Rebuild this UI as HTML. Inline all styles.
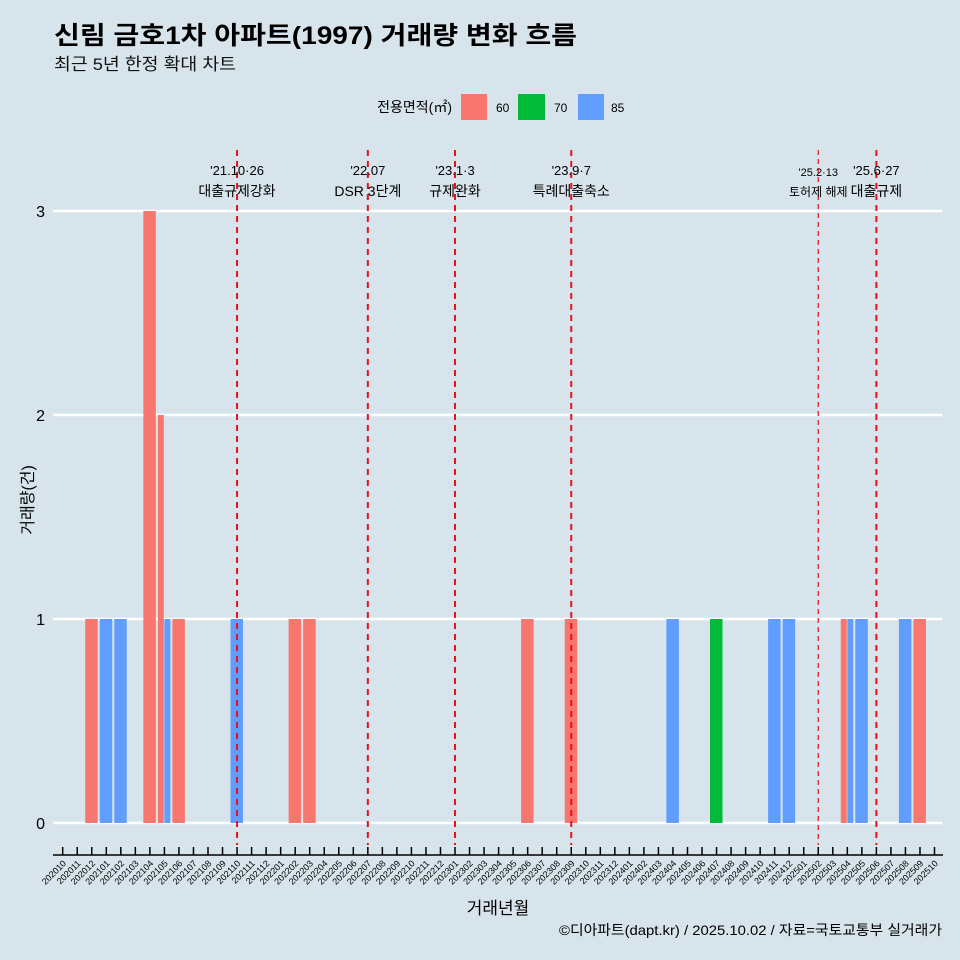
<!DOCTYPE html>
<html><head><meta charset="utf-8"><style>
body{margin:0;background:#d7e4ec;}
svg{display:block;font-family:"Liberation Sans","Noto Sans CJK KR",sans-serif;}
</style></head><body>
<svg id="c" width="960" height="960" viewBox="0 0 960 960">
<rect width="960" height="960" fill="#d7e4ec"/>
<text x="54" y="44" font-size="25" font-weight="bold" fill="#000" textLength="523" lengthAdjust="spacingAndGlyphs">신림 금호1차 아파트(1997) 거래량 변화 흐름</text>
<text x="54" y="70" font-size="17" fill="#111" textLength="182" lengthAdjust="spacingAndGlyphs">최근 5년 한정 확대 차트</text>
<g>
<text x="452" y="112" font-size="14" text-anchor="end">전용면적(㎡)</text>
<rect x="461" y="94" width="26" height="26" fill="#f8766d"/>
<text x="496" y="112" font-size="12">60</text>
<rect x="518" y="94" width="27" height="26" fill="#00ba38"/>
<text x="554" y="112" font-size="12">70</text>
<rect x="578" y="94" width="26" height="26" fill="#619cff"/>
<text x="611" y="112" font-size="12">85</text>
</g>
<g id="grid"></g><g id="bars"></g><g id="events"></g><g id="axes"></g>
<text x="498" y="914" font-size="17" text-anchor="middle">거래년월</text>
<text x="0" y="0" font-size="16" text-anchor="middle" transform="translate(33,500) rotate(-90)">거래량(건)</text>
<text x="942" y="935" font-size="14" text-anchor="end" textLength="383" lengthAdjust="spacingAndGlyphs">©디아파트(dapt.kr) / 2025.10.02 / 자료=국토교통부 실거래가</text>
</svg>
<script>
const months=[];for(let y=2020,m=10;!(y===2025&&m===11);){months.push(y+String(m).padStart(2,'0'));m++;if(m>12){m=1;y++;}}
const barMonths=["202012","202101","202102","202104","202105","202105","202106","202110","202202","202203","202306","202309","202404","202407","202411","202412","202504","202504","202505","202508","202509"];
const barAreas=["60","85","85","60","60","85","60","85","60","60","60","60","85","70","85","85","60","85","85","85","60"];
const barCounts=[1,1,1,3,2,1,1,1,1,1,1,1,1,1,1,1,1,1,1,1,1];
const yTicks=[0,1,2,3];
const eventMonths=["202110","202207","202301","202309","202502","202506"];
const eventDates=["'21.10·26","'22.07","'23.1·3","'23.9·7","'25.2·13","'25.6·27"];
const eventNames=["대출규제강화","DSR 3단계","규제완화","특례대출축소","토허제 해제","대출규제"];
const colors={"60":"#f8766d","70":"#00ba38","85":"#619cff"};
const NS="http://www.w3.org/2000/svg";
const x0=62.7,step=14.53;
const xs=m=>x0+months.indexOf(m)*step;
const ys=v=>823-v*204;
function mk(t,a,p){const e=document.createElementNS(NS,t);for(const k in a)e.setAttribute(k,a[k]);p.appendChild(e);return e;}
const G=document.getElementById('grid'),B=document.getElementById('bars'),E=document.getElementById('events'),A=document.getElementById('axes');
yTicks.forEach(v=>{
 const l=mk('line',{x1:53,x2:942,y1:ys(v),y2:ys(v),stroke:'#fff','stroke-width':2.5},G);
 
 
 const t=mk('text',{x:45,y:ys(v)+6,'font-size':16,'text-anchor':'end'},A);t.textContent=v;
 
 
});
const groups={};barMonths.forEach((m,i)=>{(groups[m]=groups[m]||[]).push(i);});
const bw=step*0.9;
barMonths.forEach((m,i)=>{
 const g=groups[m],k=g.indexOf(i),w=bw/g.length;
 const x=xs(m)-bw/2+k*w;
 const r=mk('rect',{x:x,y:ys(barCounts[i]),width:w-0.6,height:ys(0)-ys(barCounts[i]),fill:colors[barAreas[i]]},B);
 
 
});
eventMonths.forEach((m,i)=>{
 const x=xs(m);
 const small=i===4;
 const l=mk('line',{x1:x,x2:x,y1:150,y2:845,stroke:'#e8101a','stroke-width':small?1.2:2,'stroke-dasharray':small?'5,4':'6,5'},E);
 
 
 const t1=mk('text',{x:x,y:small?176:175,'font-size':small?11:13,'text-anchor':'middle'},E);t1.textContent=eventDates[i];
 
 
 const t2=mk('text',{x:x,y:196,'font-size':small?12:14,'text-anchor':'middle'},E);t2.textContent=eventNames[i];
 
 
});
const ax=mk('line',{x1:53,x2:943,y1:855,y2:855,stroke:'#000','stroke-width':1.5},A);


months.forEach(m=>{
 const x=xs(m);
 const t=mk('line',{x1:x,x2:x,y1:847,y2:855,stroke:'#000','stroke-width':1.5},A);
 
 
 const lb=mk('text',{x:0,y:0,'font-size':9,'text-anchor':'end',transform:`translate(${x+4},${864}) rotate(-45)`},A);lb.textContent=m;
 
 
});
</script>
</body></html>
